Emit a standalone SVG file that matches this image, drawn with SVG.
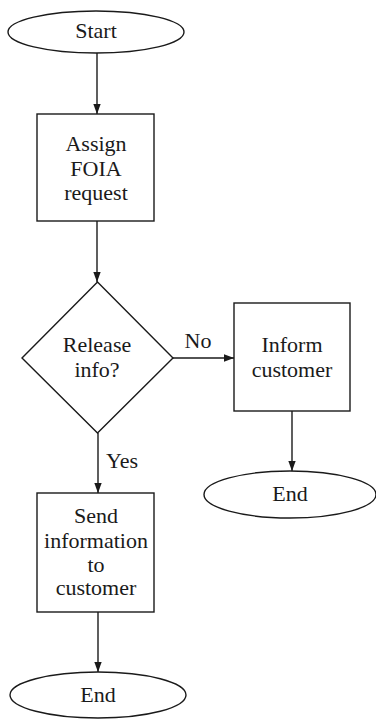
<svg xmlns="http://www.w3.org/2000/svg" width="376" height="721" viewBox="0 0 376 721">
<style>
.s{fill:#fff;stroke:#1a1a1a;stroke-width:1.4}
.t{font-family:"Liberation Serif","Times New Roman",serif;font-size:22px;fill:#1a1a1a;text-anchor:middle}
.c{stroke:#1a1a1a;stroke-width:1.4;fill:none}
</style>
<defs>
<marker id="ah" viewBox="0 0 10 10" refX="10" refY="5" markerWidth="10" markerHeight="10" markerUnits="userSpaceOnUse" orient="auto">
<path d="M0,1.3 L10,5 L0,8.7 Z" fill="#1a1a1a"/>
</marker>
</defs>
<rect width="376" height="721" fill="#fff"/>
<g id="connectors">
<line class="c" x1="97" y1="53" x2="97" y2="114" marker-end="url(#ah)"/>
<line class="c" x1="97" y1="221" x2="97" y2="282" marker-end="url(#ah)"/>
<line class="c" x1="173" y1="358" x2="234" y2="358" marker-end="url(#ah)"/>
<line class="c" x1="292" y1="411" x2="292" y2="471" marker-end="url(#ah)"/>
<line class="c" x1="98" y1="433" x2="98" y2="493" marker-end="url(#ah)"/>
<line class="c" x1="98" y1="612" x2="98" y2="672" marker-end="url(#ah)"/>
<text class="t" x="198" y="348">No</text>
<text class="t" x="122" y="468">Yes</text>
</g>
<g id="start">
<ellipse class="s" cx="96" cy="32" rx="88" ry="21"/>
<text class="t" x="96" y="38">Start</text>
</g>
<g id="assign">
<rect class="s" x="37" y="114" width="117" height="107"/>
<text class="t" x="96" y="151">Assign</text>
<text class="t" x="96" y="176">FOIA</text>
<text class="t" x="96" y="200">request</text>
</g>
<g id="decision">
<polygon class="s" points="97.5,282 173,358 97.5,433 22,358"/>
<text class="t" x="97" y="352">Release</text>
<text class="t" x="97" y="377">info?</text>
</g>
<g id="inform">
<rect class="s" x="234" y="303" width="116" height="108"/>
<text class="t" x="292" y="352">Inform</text>
<text class="t" x="292" y="377">customer</text>
</g>
<g id="end-right">
<ellipse class="s" cx="290" cy="494.5" rx="86" ry="23.5"/>
<text class="t" x="290" y="501">End</text>
</g>
<g id="send">
<rect class="s" x="37" y="493" width="117" height="119"/>
<text class="t" x="96" y="523">Send</text>
<text class="t" x="96" y="548">information</text>
<text class="t" x="96" y="572">to</text>
<text class="t" x="96" y="595">customer</text>
</g>
<g id="end-left">
<ellipse class="s" cx="98" cy="695" rx="88" ry="23"/>
<text class="t" x="98" y="702">End</text>
</g>
</svg>
